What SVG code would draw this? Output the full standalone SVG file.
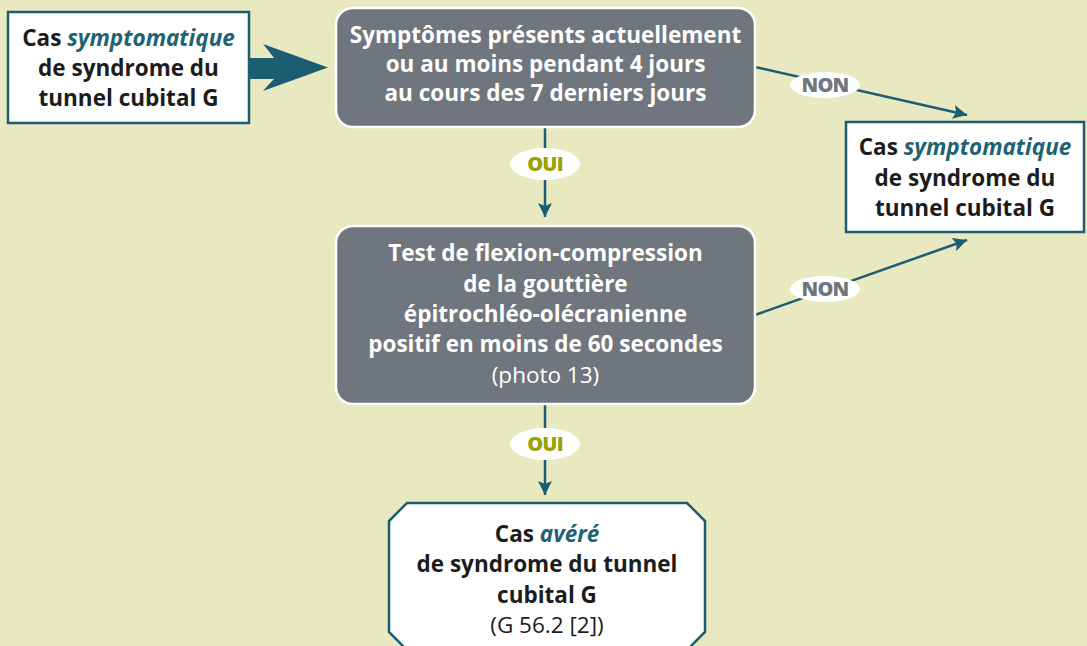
<svg xmlns="http://www.w3.org/2000/svg" width="1087" height="646" viewBox="0 0 1087 646">
  <defs>
    <style>
      .bg { fill: #e8e8c1; }
      .gray { fill: #6f767d; stroke: #ffffff; stroke-width: 2.5; }
      .white { fill: #ffffff; stroke: #1b5e72; stroke-width: 2.5; }
      .t { font-family: "Open Sans", "Noto Sans", "DejaVu Sans", sans-serif; font-size: 22.5px; font-weight: bold; text-anchor: middle; }
      .tw { fill: #ffffff; }
      .tk { fill: #1c1c1c; }
      .em { fill: #1e6275; font-style: italic; }
      .reg { font-weight: normal; }
      .conn { stroke: #1b5e72; stroke-width: 2.5; fill: none; }
      .lbl-bg { fill: #ffffff; }
      .lbl { font-family: "Open Sans", "Noto Sans", "DejaVu Sans", sans-serif; font-size: 20px; font-weight: 800; text-anchor: middle; letter-spacing: -0.8px; }
      .oui { fill: #9aa100; }
      .non { fill: #6f767d; }
    </style>
    <marker id="ah" viewBox="0 0 14 20" refX="14" refY="10" markerWidth="14" markerHeight="20" markerUnits="userSpaceOnUse" orient="auto">
      <path d="M0,3 L14,10 L0,17 L3,10 Z" fill="#1b5e72"/>
    </marker>
    <marker id="ahv" viewBox="0 0 20 14" refX="10" refY="14" markerWidth="20" markerHeight="14" markerUnits="userSpaceOnUse" orient="0">
      <path d="M3,0 L10,3 L17,0 L10,14 Z" fill="#1b5e72"/>
    </marker>
  </defs>

  <rect class="bg" x="0" y="0" width="1087" height="646"/>

  <!-- connectors -->
  <g id="connectors">
    <!-- thick arrow from entry case into first question -->
    <path d="M249,58 L274,58 Q268,50 263,44 L328,67.5 L263,91 Q268,85 274,79 L249,79 Z" fill="#1b5e72"/>
    <line class="conn" x1="545" y1="127" x2="545" y2="217" marker-end="url(#ahv)"/>
    <line class="conn" x1="545" y1="404" x2="545" y2="495" marker-end="url(#ahv)"/>
    <line class="conn" x1="755" y1="67" x2="967" y2="115" marker-end="url(#ah)"/>
    <line class="conn" x1="755" y1="315" x2="967" y2="240" marker-end="url(#ah)"/>
  </g>

  <!-- connector labels -->
  <g id="labels">
    <ellipse class="lbl-bg" cx="545" cy="164" rx="35" ry="16"/>
    <text class="lbl oui" x="545" y="171">OUI</text>
    <ellipse class="lbl-bg" cx="545" cy="444" rx="35" ry="16"/>
    <text class="lbl oui" x="545" y="451">OUI</text>
    <ellipse class="lbl-bg" cx="825" cy="85" rx="35" ry="13"/>
    <text class="lbl non" x="825" y="92">NON</text>
    <ellipse class="lbl-bg" cx="825" cy="289" rx="35" ry="13"/>
    <text class="lbl non" x="825" y="296">NON</text>
  </g>

  <g id="start">
    <rect class="white" x="8" y="12" width="241" height="111"/>
    <text class="t tk" x="128.5" y="46">Cas <tspan class="em">symptomatique</tspan></text>
    <text class="t tk" x="128.5" y="76">de syndrome du</text>
    <text class="t tk" x="128.5" y="106">tunnel cubital G</text>
  </g>

  <g id="q1">
    <rect class="gray" x="336" y="8" width="419" height="119" rx="17"/>
    <text class="t tw" x="545.5" y="43">Symptômes présents actuellement</text>
    <text class="t tw" x="545.5" y="72">ou au moins pendant 4 jours</text>
    <text class="t tw" x="545.5" y="101">au cours des 7 derniers jours</text>
  </g>

  <g id="symptomatic">
    <rect class="white" x="846" y="122" width="238" height="110"/>
    <text class="t tk" x="965" y="155">Cas <tspan class="em">symptomatique</tspan></text>
    <text class="t tk" x="965" y="186">de syndrome du</text>
    <text class="t tk" x="965" y="216">tunnel cubital G</text>
  </g>

  <g id="q2">
    <rect class="gray" x="336" y="226" width="419" height="178" rx="17"/>
    <text class="t tw" x="545.5" y="261">Test de flexion-compression</text>
    <text class="t tw" x="545.5" y="292">de la gouttière</text>
    <text class="t tw" x="545.5" y="322">épitrochléo-olécranienne</text>
    <text class="t tw" x="545.5" y="352">positif en moins de 60 secondes</text>
    <text class="t tw reg" x="545.5" y="383">(photo 13)</text>
  </g>

  <g id="confirmed">
    <path class="white" d="M407,503 L687,503 L705,521 L705,632 L687,650 L407,650 L389,632 L389,521 Z"/>
    <text class="t tk" x="547" y="542">Cas <tspan class="em">avéré</tspan></text>
    <text class="t tk" x="547" y="572">de syndrome du tunnel</text>
    <text class="t tk" x="547" y="603">cubital G</text>
    <text class="t tk reg" x="547" y="633">(G 56.2 [2])</text>
  </g>
</svg>
